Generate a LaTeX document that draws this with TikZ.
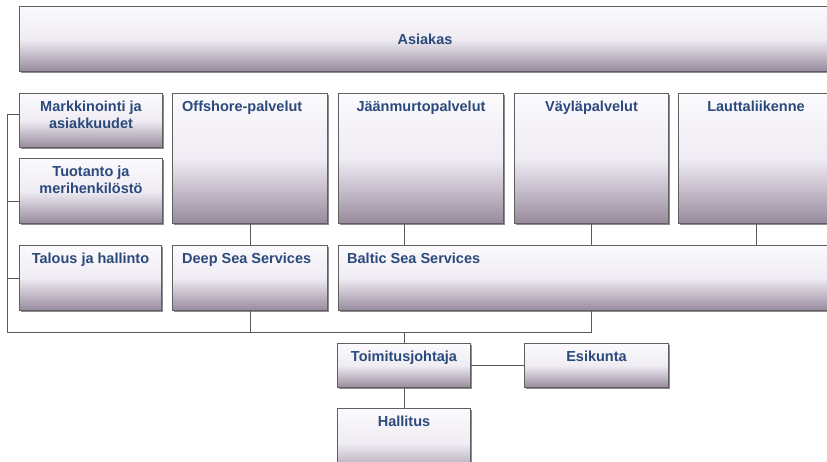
\documentclass[tikz,border=0pt]{standalone}
\usepackage{fontspec}
\setmainfont{Liberation Sans}
\usetikzlibrary{shadows}
\definecolor{txtc}{HTML}{2B4A7C}
\definecolor{botc}{HTML}{968A9C}
\definecolor{midc}{HTML}{BFB6C4}
\definecolor{lightc}{HTML}{EFECF3}
\definecolor{topc}{HTML}{FBFAFD}
\definecolor{edgec}{HTML}{5F5F5F}
\definecolor{linec}{HTML}{5A5A5A}
\pgfdeclareverticalshading{boxshade}{100bp}{color(0bp)=(botc); color(25bp)=(botc); color(36bp)=(midc); color(50bp)=(lightc); color(75bp)=(topc); color(100bp)=(topc)}
\tikzset{
  orgbox/.style={draw=edgec, line width=1pt, shading=boxshade, anchor=north west, inner sep=0pt,
    general shadow={fill=black!45, shadow xshift=1.5pt, shadow yshift=-1.5pt}},
  lbl/.style={text=txtc, font=\bfseries\fontsize{14.5}{17}\selectfont, align=center, inner sep=0pt},
  conn/.style={draw=linec, line width=0.9pt}
}
\begin{document}
\begin{tikzpicture}[x=1pt,y=-1pt]
\useasboundingbox[fill=white] (0,0) rectangle (827,462);
% row 0
\node[orgbox, minimum width=811pt, minimum height=65pt] (asiakas) at (19,6) {};
\node[lbl] (tasiakas) at (asiakas.center) {Asiakas};
% row 1
\node[orgbox, minimum width=143pt, minimum height=54pt] (mark) at (19,93) {};
\node[lbl, anchor=north] (tmark) at ([yshift=-8pt]mark.north) {Markkinointi ja\\asiakkuudet};
\node[orgbox, minimum width=143pt, minimum height=65pt] (tuot) at (19,158) {};
\node[lbl, anchor=north] (ttuot) at ([yshift=-8pt]tuot.north) {Tuotanto ja\\merihenkilöstö};
\node[orgbox, minimum width=155pt, minimum height=130pt] (off) at (172,93) {};
\node[lbl, anchor=north west] (toff) at ([xshift=10pt,yshift=-8pt]off.north west) {Offshore-palvelut};
\node[orgbox, minimum width=165pt, minimum height=130pt] (jaan) at (338,93) {};
\node[lbl, anchor=north] (tjaan) at ([yshift=-8pt]jaan.north) {Jäänmurtopalvelut};
\node[orgbox, minimum width=154pt, minimum height=130pt] (vayla) at (514,93) {};
\node[lbl, anchor=north] (tvayla) at ([yshift=-8pt]vayla.north) {Väyläpalvelut};
\node[orgbox, minimum width=155pt, minimum height=130pt] (lautta) at (678,93) {};
\node[lbl, anchor=north] (tlautta) at ([yshift=-8pt]lautta.north) {Lauttaliikenne};
% row 2
\node[orgbox, minimum width=142pt, minimum height=65pt] (talous) at (19,245) {};
\node[lbl, anchor=north] (ttalous) at ([yshift=-8pt]talous.north) {Talous ja hallinto};
\node[orgbox, minimum width=155pt, minimum height=65pt] (deep) at (172,245) {};
\node[lbl, anchor=north west] (tdeep) at ([xshift=10pt,yshift=-8pt]deep.north west) {Deep Sea Services};
\node[orgbox, minimum width=500pt, minimum height=65pt] (baltic) at (338,245) {};
\node[lbl, anchor=north west] (tbaltic) at ([xshift=9pt,yshift=-8pt]baltic.north west) {Baltic Sea Services};
% row 3
\node[orgbox, minimum width=133pt, minimum height=44pt] (toim) at (337,343) {};
\node[lbl, anchor=north] (ttoim) at ([yshift=-8pt]toim.north) {Toimitusjohtaja};
\node[orgbox, minimum width=144pt, minimum height=44pt] (esik) at (524,343) {};
\node[lbl, anchor=north] (tesik) at ([yshift=-8pt]esik.north) {Esikunta};
\node[orgbox, minimum width=133pt, minimum height=70pt] (hall) at (337,408) {};
\node[lbl, anchor=north] (thall) at ([yshift=-8pt]hall.north) {Hallitus};
% connectors
\coordinate (bl) at (7,332);
\coordinate (br) at (591,332);
\coordinate (mk) at ([yshift=6pt]mark.west);
\coordinate (tk) at ([yshift=-10.5pt]tuot.west);
\draw[conn] (mk) -| (bl) -- (br) -- (br |- baltic.south);
\draw[conn] (tk) -- (tk -| bl);
\draw[conn] (talous.west) -- (talous.west -| bl);
\draw[conn] (deep.south) -- (deep.south |- bl);
\draw[conn] (toim.north) -- (toim.north |- bl);
\draw[conn] (off.south) -- (deep.north);
\draw[conn] (toim.north |- jaan.south) -- (toim.north |- baltic.north);
\draw[conn] (vayla.south) -- (vayla.south |- baltic.north);
\draw[conn] (lautta.south) -- (lautta.south |- baltic.north);
\draw[conn] (toim.east) -- (esik.west);
\draw[conn] (toim.south) -- (hall.north);
\end{tikzpicture}
\end{document}
